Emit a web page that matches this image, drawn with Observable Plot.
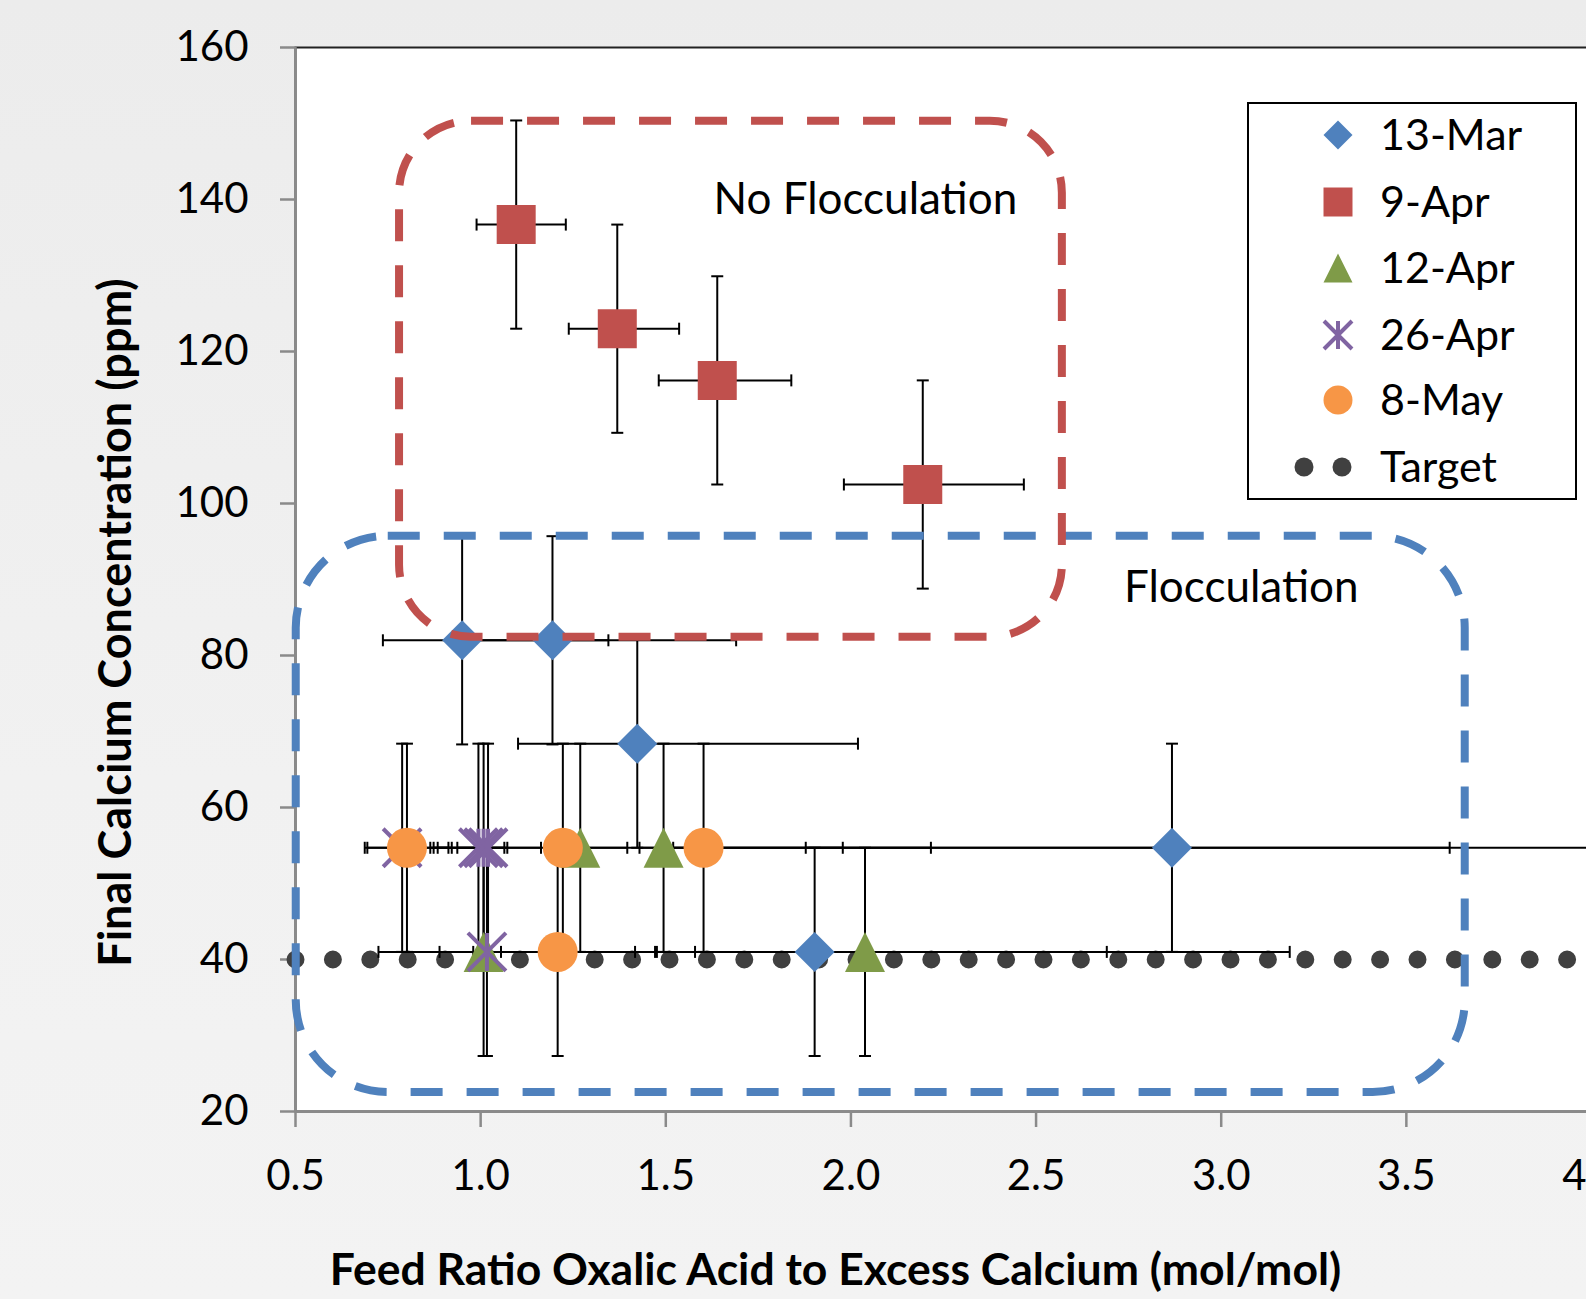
<!DOCTYPE html>
<html>
<head>
<meta charset="utf-8">
<script src="https://cdn.jsdelivr.net/npm/d3@7"></script>
<script src="https://cdn.jsdelivr.net/npm/@observablehq/plot@0.6"></script>
<style>
html, body { margin: 0; padding: 0; width: 1586px; height: 1299px; overflow: hidden; }
body { background: linear-gradient(to bottom, #ececec, #f1f1f1 60%, #f3f3f3); font-family: Lato, sans-serif; }
#wrap { position: relative; width: 1586px; height: 1299px; overflow: hidden; }
#chart { position: absolute; left: 0; top: 0; width: 1700px; height: 1299px; }
#chart svg { max-width: none !important; }
#legend { position: absolute; left: 1247px; top: 102px; width: 326px; height: 394px; border: 2px solid #000; background: #fff; }
</style>
</head>
<body>
<div id="wrap">
  <div id="chart"></div>
  <div id="legend"></div>
</div>
<script>
// ---------------- data ----------------
const seriesNames = ["13-Mar", "9-Apr", "12-Apr", "26-Apr", "8-May"];
const seriesColors = ["#4F81BD", "#C0504D", "#7F9B48", "#8064A2", "#F79646"];

const yErr = 13.7;

const mar13X   = [0.950, 1.194, 1.423, 2.867, 1.902];
const mar13Y   = [82.0, 82.0, 68.4, 54.7, 41.0];
const mar13XLo = [0.736, 0.960, 1.101, 1.878, 1.417];
const mar13XHi = [1.345, 1.690, 2.019, 4.300, 3.185];

const apr9X   = [1.096, 1.369, 1.639, 2.194];
const apr9Y   = [136.7, 123.0, 116.2, 102.5];
const apr9XLo = [0.989, 1.238, 1.481, 1.981];
const apr9XHi = [1.230, 1.536, 1.839, 2.467];

const apr12X   = [1.269, 1.494, 1.008, 2.038];
const apr12Y   = [54.7, 54.7, 41.0, 41.0];
const apr12XLo = [1.200, 1.429, 0.724, 1.471];
const apr12XHi = [1.396, 2.216, 1.476, 2.691];

const apr26X   = [0.788, 0.994, 1.008, 1.020, 1.017];
const apr26Y   = [54.7, 54.7, 54.7, 54.7, 41.0];
const apr26XLo = [0.687, 0.864, 0.873, 0.884, 0.889];
const apr26XHi = [0.913, 1.064, 1.072, 1.163, 1.055];

const may8X   = [0.801, 1.222, 1.602, 1.208];
const may8Y   = [54.7, 54.7, 54.7, 41.0];
const may8XLo = [0.694, 0.937, 1.520, 0.980];
const may8XHi = [0.922, 1.978, 3.617, 1.579];

const targetX = [0.5, 4.0];
const targetY = [40, 40];

const xTicks = [0.5, 1.0, 1.5, 2.0, 2.5, 3.0, 3.5, 4.0];
const yTicks = [20, 40, 60, 80, 100, 120, 140, 160];

const regionNames = ["No Flocculation", "Flocculation"];
const regionX1 = [0.781, 0.502];
const regionX2 = [2.571, 3.659];
const regionY1 = [82.4, 22.5];
const regionY2 = [150.3, 95.7];
const regionLabelX = [2.039, 3.054];
const regionLabelY = [140.0, 88.9];

const xTitle = "Feed Ratio Oxalic Acid to Excess Calcium (mol/mol)";
const yTitle = "Final Calcium Concentration (ppm)";

// ---------------- build tables ----------------
const mk = (name, X, Y, Lo, Hi) => X.map((x, i) => ({series: name, x, y: Y[i], lo: Lo[i], hi: Hi[i]}));
const dMar13 = mk("13-Mar", mar13X, mar13Y, mar13XLo, mar13XHi);
const dApr9  = mk("9-Apr", apr9X, apr9Y, apr9XLo, apr9XHi);
const dApr12 = mk("12-Apr", apr12X, apr12Y, apr12XLo, apr12XHi);
const dApr26 = mk("26-Apr", apr26X, apr26Y, apr26XLo, apr26XHi);
const dMay8  = mk("8-May", may8X, may8Y, may8XLo, may8XHi);
const allPts = [...dMar13, ...dApr9, ...dApr12, ...dApr26, ...dMay8];
const target = targetX.map((x, i) => ({x, y: targetY[i]}));
const regions = regionNames.map((n, i) => ({name: n, x1: regionX1[i], x2: regionX2[i], y1: regionY1[i], y2: regionY2[i], lx: regionLabelX[i], ly: regionLabelY[i]}));

// ---------------- custom symbols ----------------
const rad = size => Math.sqrt(size / Math.PI);
const symDiamond = {draw(c, s) { const r = rad(s); c.moveTo(0, -r); c.lineTo(r, 0); c.lineTo(0, r); c.lineTo(-r, 0); c.closePath(); }};
const symSquare  = {draw(c, s) { const r = rad(s); c.moveTo(-r, -r); c.lineTo(r, -r); c.lineTo(r, r); c.lineTo(-r, r); c.closePath(); }};
const symTri     = {draw(c, s) { const r = rad(s); c.moveTo(0, -r); c.lineTo(r, r); c.lineTo(-r, r); c.closePath(); }};
const symStar    = {draw(c, s) { const r = rad(s); c.moveTo(-r, -r); c.lineTo(r, r); c.moveTo(r, -r); c.lineTo(-r, r); c.moveTo(0, -r); c.lineTo(0, r); }};
const symVCap    = {draw(c, s) { const r = rad(s); c.moveTo(0, -r); c.lineTo(0, r); }};
const symHCap    = {draw(c, s) { const r = rad(s); c.moveTo(-r, 0); c.lineTo(r, 0); }};

const W = 1700, H = 1299;
const FONT = "Lato, 'Open Sans', sans-serif";

const chart = Plot.plot({
  width: W,
  height: H,
  marginLeft: 295,
  marginRight: 109,
  marginTop: 47,
  marginBottom: 188,
  x: {domain: [0.5, 4.0]},
  y: {domain: [20, 160]},
  style: {fontFamily: FONT, fontSize: "42px", background: "transparent", color: "#000", overflow: "visible", maxWidth: "none"},
  marks: [
    Plot.frame({fill: "#fff", stroke: "#222", strokeWidth: 2}),
    Plot.axisX({ticks: xTicks, tickFormat: d => d.toFixed(1), tickSize: 16, tickPadding: 33, stroke: "#8a8a8a", strokeWidth: 2.5, fill: "#000", label: null, fontSize: 42}),
    Plot.axisY({ticks: yTicks, tickSize: 15, tickPadding: 32, stroke: "#8a8a8a", strokeWidth: 2.5, fill: "#000", label: null, fontSize: 42}),
    Plot.ruleX([0.5], {stroke: "#8a8a8a", strokeWidth: 2.5}),
    Plot.ruleY([20], {stroke: "#8a8a8a", strokeWidth: 2.5}),
    // target
    Plot.line(target, {x: "x", y: "y", stroke: "#404040", strokeWidth: 18, strokeDasharray: "0 37.4", strokeLinecap: "round"}),
    // error bars
    Plot.link(allPts, {x1: "lo", x2: "hi", y1: "y", y2: "y", stroke: "#000", strokeWidth: 2}),
    Plot.link(allPts, {x1: "x", x2: "x", y1: d => d.y - yErr, y2: d => d.y + yErr, stroke: "#000", strokeWidth: 2}),
    Plot.dot(allPts, {x: "lo", y: "y", symbol: symVCap, r: 6, fill: "none", stroke: "#000", strokeWidth: 2}),
    Plot.dot(allPts, {x: "hi", y: "y", symbol: symVCap, r: 6, fill: "none", stroke: "#000", strokeWidth: 2}),
    Plot.dot(allPts, {x: "x", y: d => d.y - yErr, symbol: symHCap, r: 6, fill: "none", stroke: "#000", strokeWidth: 2}),
    Plot.dot(allPts, {x: "x", y: d => d.y + yErr, symbol: symHCap, r: 6, fill: "none", stroke: "#000", strokeWidth: 2}),
    // markers
    Plot.dot(dMar13, {x: "x", y: "y", symbol: symDiamond, r: 20, fill: seriesColors[0], stroke: "none"}),
    Plot.dot(dApr9, {x: "x", y: "y", symbol: symSquare, r: 19.5, fill: seriesColors[1], stroke: "none"}),
    Plot.dot(dApr12, {x: "x", y: "y", symbol: symTri, r: 20, fill: seriesColors[2], stroke: "none"}),
    Plot.dot(dApr26, {x: "x", y: "y", symbol: symStar, r: 19, fill: "none", stroke: seriesColors[3], strokeWidth: 4}),
    Plot.dot(dMay8, {x: "x", y: "y", r: 20, fill: seriesColors[4], stroke: "none"}),
    // region boxes
    Plot.rect(regions.slice(1), {x1: "x1", x2: "x2", y1: "y1", y2: "y2", rx: 92, ry: 92, fill: "none", stroke: "#4F81BD", strokeWidth: 8, strokeDasharray: "32 24"}),
    Plot.rect(regions.slice(0, 1), {x1: "x1", x2: "x2", y1: "y1", y2: "y2", rx: 72, ry: 72, fill: "none", stroke: "#C0504D", strokeWidth: 8, strokeDasharray: "32 24"}),
    Plot.text(regions, {x: "lx", y: "ly", text: "name", fontSize: 44, fill: "#000"}),
    // axis titles
    Plot.text([xTitle], {frameAnchor: "bottom", dx: -108, dy: 159, text: d => d, textAnchor: "middle", lineAnchor: "middle", fontSize: 44.5, fontWeight: "bold", fill: "#000"}),
    Plot.text([yTitle], {frameAnchor: "left", dx: -179, dy: 43, rotate: -90, text: d => d, textAnchor: "middle", lineAnchor: "middle", fontSize: 45, fontWeight: "bold", fill: "#000"})
  ]
});
chart.style.maxWidth = "none";
document.getElementById("chart").appendChild(chart);

// ---------------- legend ----------------
const legSyms = [symDiamond, symSquare, symTri, symStar, null];
const legR = [14.5, 14.5, 14.5, 14, 14.5];
const lg = d3.select("#legend").append("svg").attr("width", 326).attr("height", 394)
  .style("font-family", FONT).style("font-size", "43px");
const rowY = [31, 98, 164, 231, 296, 363];
seriesNames.forEach((name, i) => {
  const g = lg.append("g").attr("transform", `translate(89,${rowY[i]})`);
  if (legSyms[i] === null) {
    g.append("circle").attr("r", legR[i]).attr("fill", seriesColors[i]);
  } else {
    const p = d3.symbol().type(legSyms[i]).size(Math.PI * legR[i] * legR[i])();
    if (legSyms[i] === symStar) g.append("path").attr("d", p).attr("fill", "none").attr("stroke", seriesColors[i]).attr("stroke-width", 4);
    else g.append("path").attr("d", p).attr("fill", seriesColors[i]);
  }
  lg.append("text").attr("x", 131).attr("y", rowY[i]).attr("dy", "0.35em").text(name);
});
[55, 93].forEach(cx => lg.append("circle").attr("cx", cx).attr("cy", rowY[5]).attr("r", 9.5).attr("fill", "#404040"));
lg.append("text").attr("x", 131).attr("y", rowY[5]).attr("dy", "0.35em").text("Target");
</script>
</body>
</html>
